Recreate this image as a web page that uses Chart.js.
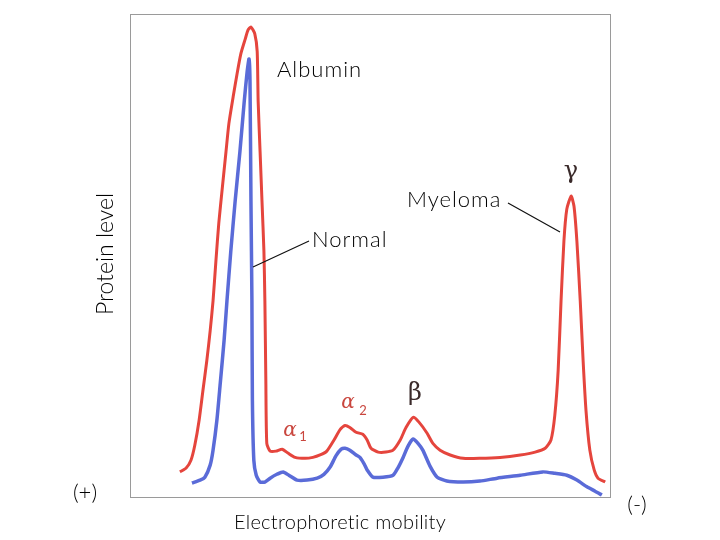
<!DOCTYPE html>
<html>
<head>
<meta charset="utf-8">
<script src="https://cdn.jsdelivr.net/npm/chart.js@4.4.1/dist/chart.umd.min.js"></script>
<style>
  body { margin: 0; background: #fff; }
  #wrap { width: 720px; height: 540px; position: relative; }
</style>
</head>
<body>
<div id="wrap"><canvas id="chart"></canvas></div>
<script>
// mobility (0 = anode side, 100 = cathode side) and protein level
const myelomaX = [10.4, 11.7, 12.7, 13.5, 14.4, 15.2, 16.0, 16.7, 17.3, 17.9, 18.5, 19.2, 20.0, 20.6, 21.5, 22.3, 23.1, 24.0,
    24.6, 25.2, 26.0, 26.5, 26.7, 27.1, 27.5, 27.9, 28.1, 28.3, 28.5,
    29.2, 30.4, 31.7, 32.9, 34.4, 36.5, 38.1, 39.6, 41.0, 42.5, 43.8, 44.8, 45.8, 47.1, 48.5, 49.4, 50.2, 51.7, 53.3,
    54.8, 56.3, 57.5, 59.0, 60.2, 61.9, 63.1, 64.6, 66.7, 69.4, 72.9, 77.1, 81.3, 84.4, 86.5, 87.7, 88.5, 89.2, 89.8,
    90.4, 91.0, 91.9, 92.5, 93.1, 93.8, 94.4, 95.0, 95.8, 96.7, 97.5, 99.0];
const myelomaY = [5.2, 6.0, 7.6, 10.7, 15.9, 22.1, 28.2, 34.4, 40.6, 48.9, 56.7, 63.7, 71.5, 77.3, 82.9, 87.6, 91.8, 94.8,
    96.7, 97.3, 95.9, 92.2, 81.9, 71.5, 61.2, 50.9, 40.6, 24.1, 11.1,
    9.5, 9.5, 9.9, 9.1, 8.2, 8.0, 8.2, 8.7, 9.5, 11.8, 14.0, 14.8, 14.4, 13.4, 13.0, 11.8, 10.1, 9.3, 9.3,
    9.7, 11.8, 14.4, 16.5, 15.5, 13.2, 11.1, 9.7, 8.7, 8.0, 8.0, 8.2, 8.7, 9.3, 10.1, 11.8, 16.9, 26.2, 40.6,
    53.0, 59.6, 62.3, 60.2, 53.0, 40.6, 28.2, 17.9, 9.7, 5.6, 3.9, 3.1];

const normalX = [12.9, 14.6, 15.6, 16.7, 17.3, 18.1, 18.8, 19.6, 20.2, 21.0, 21.9, 22.9, 23.8, 24.4, 24.8, 25.0, 25.2, 25.4, 25.5,
    25.8, 26.3, 27.1, 28.1, 29.2, 30.6, 31.9, 33.1, 34.8, 36.9, 39.0, 40.4, 41.7, 42.9, 44.0, 44.8, 45.8, 47.1, 47.9,
    48.8, 49.4, 50.6, 52.7, 54.8, 55.8, 56.9, 57.9, 59.0, 60.0, 61.0, 62.5, 64.0, 66.0, 69.4, 72.9, 76.5, 81.3, 86.0,
    88.5, 91.0, 93.1, 95.2, 96.9, 98.3];
const normalY = [2.9, 3.5, 4.1, 6.6, 9.7, 15.9, 23.5, 32.4, 40.6, 50.9, 61.2, 71.5, 81.9, 88.0, 90.7, 86.0, 61.2, 40.6, 20.0,
    7.6, 4.5, 3.1, 3.1, 3.9, 4.7, 5.2, 4.5, 3.5, 3.5, 3.9, 4.7, 6.2, 8.5, 9.9, 10.1, 9.7, 8.7, 8.2,
    6.8, 5.6, 4.1, 4.1, 4.5, 6.0, 8.2, 10.5, 12.0, 11.1, 9.7, 6.4, 4.1, 3.3, 3.1, 3.3, 3.9, 4.5, 5.2,
    4.9, 4.5, 3.5, 2.1, 1.2, 0.4];

const FONT = 'Lato, "DejaVu Sans", sans-serif';

function toPoints(xs, ys) {
    return xs.map((x, i) => ({ x: x, y: ys[i] }));
}

// box, labels, leader lines and greek letters
const figureText = {
    id: 'figureText',
    beforeDatasetsDraw(chart) {
        const { ctx, chartArea: a } = chart;
        ctx.save();
        ctx.strokeStyle = '#9a9a9a';
        ctx.lineWidth = 1;
        ctx.strokeRect(a.left + 0.5, a.top + 0.5, a.right - a.left, a.bottom - a.top);
        ctx.restore();
    },
    afterDatasetsDraw(chart) {
        const ctx = chart.ctx;
        ctx.save();
        ctx.fillStyle = '#000';
        ctx.textBaseline = 'middle';
        ctx.font = '300 22px ' + FONT;
        ctx.letterSpacing = '1px';
        ctx.textAlign = 'left';
        ctx.fillText('Albumin', 277, 70);
        ctx.fillText('Normal', 312, 240);
        ctx.fillText('Myeloma', 407, 200);

        ctx.strokeStyle = '#111';
        ctx.lineWidth = 1.2;
        ctx.beginPath();
        ctx.moveTo(253, 267); ctx.lineTo(309, 241);
        ctx.moveTo(508, 203); ctx.lineTo(560, 232);
        ctx.stroke();

        ctx.textAlign = 'center';
        ctx.font = '300 20px ' + FONT;
        ctx.letterSpacing = '0.3px';
        ctx.fillText('Electrophoretic mobility', 340, 523);
        ctx.letterSpacing = '0px';
        ctx.font = '300 22px ' + FONT;
        ctx.fillText('(+)', 85, 493);
        ctx.fillText('(-)', 637, 505);

        ctx.save();
        ctx.translate(106, 254);
        ctx.rotate(-Math.PI / 2);
        ctx.font = '300 23px ' + FONT;
        ctx.fillText('Protein level', 0, 0);
        ctx.restore();

        ctx.font = '24px "DejaVu Serif", serif';
        ctx.fillStyle = '#3a2a2a';
        ctx.fillText('β', 415, 394);
        ctx.fillText('γ', 571, 172);
        ctx.fillStyle = '#c9463e';
        ctx.font = 'italic 20px "DejaVu Serif", serif';
        ctx.fillText('α', 290, 431);
        ctx.fillText('α', 348, 403);
        ctx.font = '13px ' + FONT;
        ctx.fillText('1', 303, 437);
        ctx.fillText('2', 363, 411);
        ctx.restore();
    }
};

new Chart(document.getElementById('chart'), {
    type: 'scatter',
    data: {
        datasets: [{
            label: 'Myeloma',
            data: toPoints(myelomaX, myelomaY),
            showLine: true,
            borderColor: '#e5453d',
            borderWidth: 3,
            pointRadius: 0,
            tension: 0.2
        }, {
            label: 'Normal',
            data: toPoints(normalX, normalY),
            showLine: true,
            borderColor: '#5a6bd8',
            borderWidth: 3.5,
            pointRadius: 0,
            tension: 0.2
        }]
    },
    options: {
        responsive: true,
        maintainAspectRatio: false,
        animation: false,
        layout: { padding: { left: 130, right: 110, top: 14, bottom: 43 } },
        scales: {
            x: { type: 'linear', min: 0, max: 100, display: false },
            y: { min: 0, max: 100, display: false }
        },
        plugins: {
            legend: { display: false },
            tooltip: { enabled: false }
        }
    },
    plugins: [figureText]
});
</script>
</body>
</html>
